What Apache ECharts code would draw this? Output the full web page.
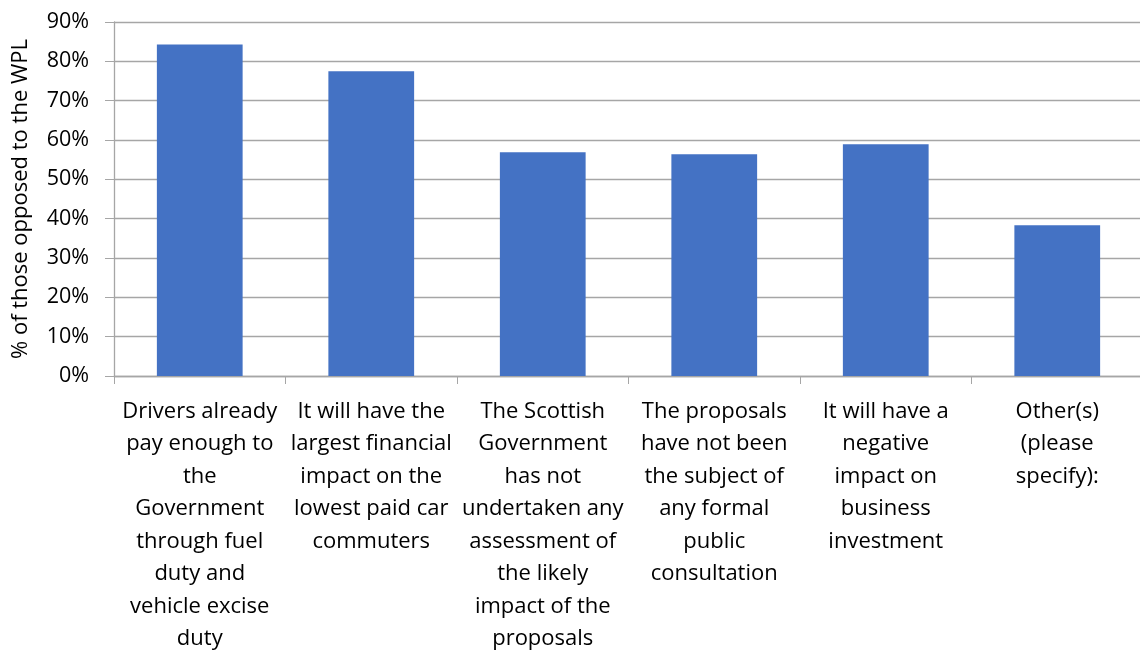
<!DOCTYPE html>
<html><head><meta charset="utf-8">
<script src="https://cdn.jsdelivr.net/npm/echarts@6/dist/echarts.min.js"></script>
<style>html,body{margin:0;padding:0;background:#fff}#c{width:1140px;height:651px}</style>
</head><body><div id="c"></div>
<script>
const categories = [
  "Drivers already\npay enough to\nthe\nGovernment\nthrough fuel\nduty and\nvehicle excise\nduty",
  "It will have the\nlargest financial\nimpact on the\nlowest paid car\ncommuters",
  "The Scottish\nGovernment\nhas not\nundertaken any\nassessment of\nthe likely\nimpact of the\nproposals",
  "The proposals\nhave not been\nthe subject of\nany formal\npublic\nconsultation",
  "It will have a\nnegative\nimpact on\nbusiness\ninvestment",
  "Other(s)\n(please\nspecify):"
];
const values = [84.3, 77.5, 56.9, 56.4, 58.9, 38.3];
const yAxisTitle = "% of those opposed to the WPL";
const font = "'Open Sans', Lato, sans-serif";
const chart = echarts.init(document.getElementById('c'));
chart.setOption({
  animation: false,
  grid: {left: 114, top: 22, width: 1029, height: 354, containLabel: false, outerBoundsMode: 'none'},
  xAxis: {
    type: 'category', data: categories,
    axisLine: {lineStyle: {color: '#a6a6a6', width: 1.3}},
    axisTick: {show: true, alignWithLabel: false, length: 8, lineStyle: {color: '#a6a6a6'}},
    axisLabel: {color: '#000', fontSize: 22, fontFamily: font, lineHeight: 32.5, margin: 19, interval: 0, align: 'center'}
  },
  yAxis: {
    type: 'value', min: 0, max: 90, interval: 10,
    name: yAxisTitle, nameLocation: 'middle', nameGap: 82, nameRotate: 90,
    nameTextStyle: {color: '#000', fontSize: 22, fontFamily: font, padding: [0, 0, 0, 0]},
    axisLine: {show: true, lineStyle: {color: '#a6a6a6', width: 1.3}},
    axisTick: {show: true, length: 9, lineStyle: {color: '#a6a6a6'}},
    splitLine: {lineStyle: {color: '#a6a6a6', width: 1.3}},
    axisLabel: {color: '#000', fontSize: 21.5, fontFamily: font, margin: 25, formatter: '{value}%'}
  },
  series: [{
    type: 'bar', data: values, barWidth: '50%',
    itemStyle: {color: '#4472C4'}
  }]
});
</script></body></html>
